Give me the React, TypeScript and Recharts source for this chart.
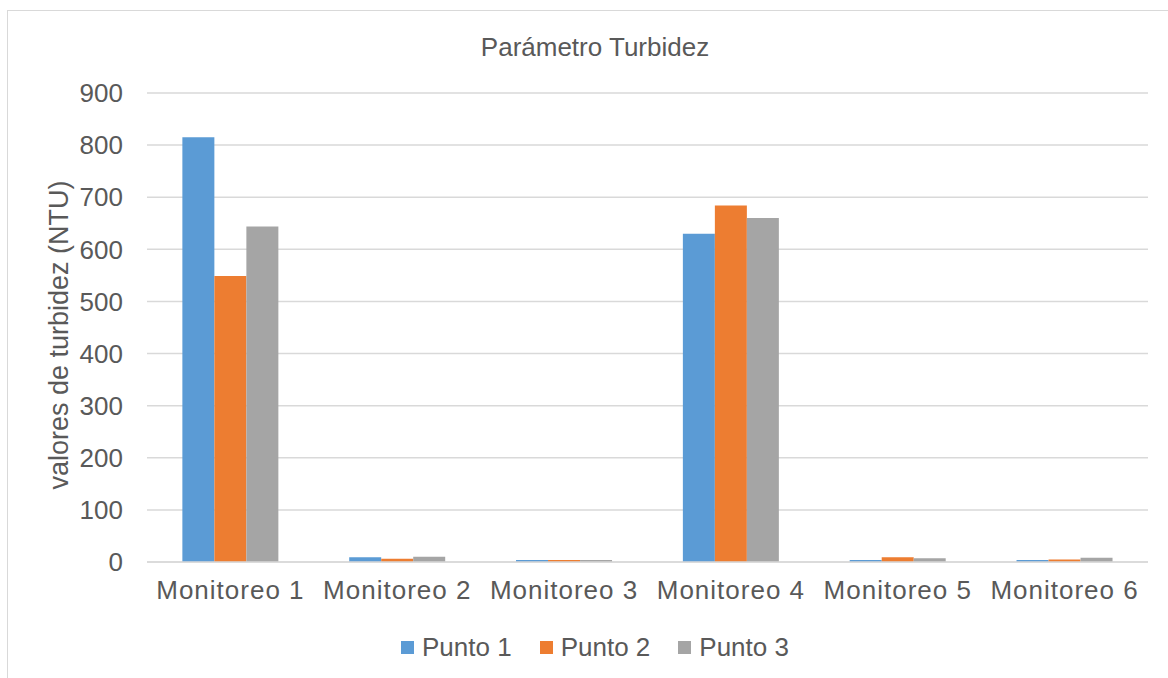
import React from 'react'
import { Bar, BarChart, CartesianGrid, Legend, XAxis, YAxis } from 'recharts'

const categories = ['Monitoreo 1', 'Monitoreo 2', 'Monitoreo 3', 'Monitoreo 4', 'Monitoreo 5', 'Monitoreo 6']
const punto1 = [815, 9, 4, 630, 4, 4]
const punto2 = [549, 6, 4, 684, 9, 5]
const punto3 = [644, 10, 4, 660, 7, 8]
const yTicks = [0, 100, 200, 300, 400, 500, 600, 700, 800, 900]

const data = categories.map((name, i) => ({
  name,
  p1: punto1[i],
  p2: punto2[i],
  p3: punto3[i],
}))

const textColor = '#595959'
const gridColor = '#d9d9d9'
const font = '"Liberation Sans", Arial, sans-serif'

const LegendContent = (props: any) => {
  const { payload } = props
  return (
    <div
      style={{
        display: 'flex',
        justifyContent: 'center',
        alignItems: 'center',
        height: 28,
        gap: 28,
        fontFamily: font,
        fontSize: 26,
        color: textColor,
      }}
    >
      {(payload || []).map((entry: any) => (
        <div key={entry.value} style={{ display: 'flex', alignItems: 'center' }}>
          <span style={{ width: 13, height: 13, background: entry.color, marginRight: 8, display: 'inline-block' }} />
          <span>{entry.value}</span>
        </div>
      ))}
    </div>
  )
}

export default function App() {
  return (
    <div
      style={{
        position: 'fixed',
        left: 7,
        top: 10,
        width: 1174,
        height: 668,
        border: `1px solid ${gridColor}`,
        background: '#fff',
        fontFamily: font,
      }}
    >
      <div
        style={{
          position: 'absolute',
          left: 0,
          top: 23,
          width: 1174,
          textAlign: 'center',
          fontSize: 26,
          lineHeight: '26px',
          color: textColor,
        }}
      >
        Parámetro Turbidez
      </div>
      <BarChart
        width={1174}
        height={668}
        data={data}
        margin={{ top: 82, right: 34, bottom: 18, left: 0 }}
        barCategoryGap="21.2%"
        barGap={0}
      >
        <CartesianGrid vertical={false} stroke={gridColor} strokeWidth={1.5} />
        <XAxis
          dataKey="name"
          interval={0}
          tickLine={false}
          tickSize={0}
          tickMargin={19}
          height={71}
          axisLine={{ stroke: gridColor, strokeWidth: 1.5 }}
          tick={{ fill: textColor, fontSize: 26, fontFamily: font, letterSpacing: 1 }}
        />
        <YAxis
          domain={[0, 900]}
          ticks={yTicks}
          axisLine={false}
          tickLine={false}
          tickSize={0}
          tickMargin={24}
          width={139}
          tick={{ fill: textColor, fontSize: 26, fontFamily: font }}
          label={{
            content: () => (
              <text
                x={60}
                y={324}
                transform="rotate(-90, 60, 324)"
                textAnchor="middle"
                fill={textColor}
                fontSize={27}
                fontFamily={font}
              >
                valores de turbidez (NTU)
              </text>
            ),
          }}
        />
        <Legend
          verticalAlign="bottom"
          content={<LegendContent />}
          wrapperStyle={{ left: 0, width: 1174 }}
        />
        <Bar dataKey="p1" name="Punto 1" fill="#5b9bd5" isAnimationActive={false} />
        <Bar dataKey="p2" name="Punto 2" fill="#ed7d31" isAnimationActive={false} />
        <Bar dataKey="p3" name="Punto 3" fill="#a5a5a5" isAnimationActive={false} />
      </BarChart>
    </div>
  )
}
